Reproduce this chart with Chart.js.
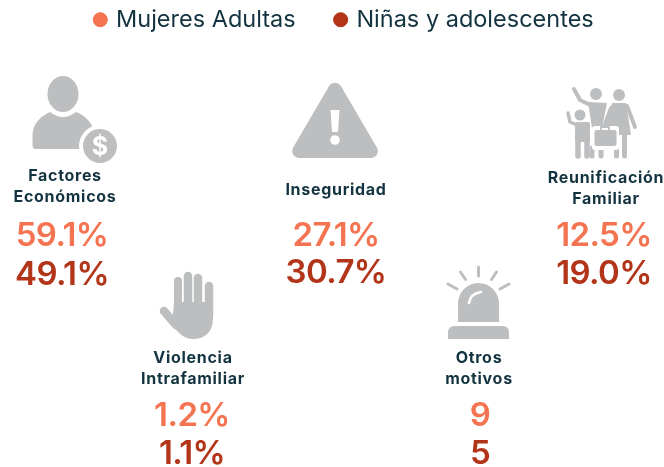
<!DOCTYPE html>
<html>
<head>
<meta charset="utf-8">
<style>
  html, body { margin: 0; padding: 0; background: #fff; }
  canvas { display: block; }
</style>
<script src="https://cdn.jsdelivr.net/npm/chart.js@4"></script>
</head>
<body>
<canvas id="motivos" width="664" height="467"></canvas>
<script>
var categories = [["Factores", "Económicos"], ["Violencia", "Intrafamiliar"], ["Inseguridad"], ["Otros", "motivos"], ["Reunificación", "Familiar"]];
var mujeresAdultas = [59.1, 1.2, 27.1, 9, 12.5];
var ninasAdolescentes = [49.1, 1.1, 30.7, 5, 19.0];
var units = ["%", "%", "%", "", "%"];
var seriesNames = ["Mujeres Adultas", "Niñas y adolescentes"];

// layout of the infographic, in page units
var columnX = [62, 192, 336, 480, 604];
var adultRow = [235, 415, 235, 415, 235];
var girlRow = [274, 453, 272, 453, 273];
var labelX = [65, 193, 336, 479, 606];
var labelRow = [176, 358, 190, 358, 178];
var iconX = [75, 186, 335, 479, 601];
var iconY = [120, 305, 120, 302, 123];

var GREY = "#bdbec0";
var INK = "#12333f";
var ORANGE = "#f47452";
var RUST = "#b2351a";
var FONT = "Inter, sans-serif";

function icon(w, h, ox, oy, draw) {
  var c = document.createElement("canvas");
  c.width = w;
  c.height = h;
  var g = c.getContext("2d");
  g.translate(-ox, -oy);
  g.fillStyle = GREY;
  g.strokeStyle = GREY;
  g.lineCap = "round";
  g.lineJoin = "round";
  draw(g);
  return c;
}

function line(g, pts, width, color) {
  g.beginPath();
  g.lineWidth = width;
  g.strokeStyle = color || GREY;
  g.moveTo(pts[0], pts[1]);
  for (var i = 2; i < pts.length; i += 2) g.lineTo(pts[i], pts[i + 1]);
  g.stroke();
}

function dot(g, x, y, r) {
  g.beginPath();
  g.arc(x, y, r, 0, Math.PI * 2);
  g.fill();
}

var personIcon = icon(90, 90, 30, 75, function (g) {
  g.beginPath();
  g.ellipse(63, 94, 15.5, 18, 0, 0, Math.PI * 2);
  g.fill();
  g.beginPath();
  g.moveTo(36, 149);
  g.quadraticCurveTo(32.5, 149, 32.5, 145);
  g.lineTo(32.5, 135);
  g.bezierCurveTo(33, 122, 42, 116, 50, 112);
  g.quadraticCurveTo(63, 122, 76, 112);
  g.bezierCurveTo(84, 115, 90, 120, 94, 130);
  g.lineTo(94, 149);
  g.closePath();
  g.fill();
  g.globalCompositeOperation = "destination-out";
  dot(g, 100, 146, 21);
  g.globalCompositeOperation = "source-over";
  dot(g, 100, 146, 17);
  g.fillStyle = "#fff";
  g.font = "700 25px " + FONT;
  g.textAlign = "center";
  g.textBaseline = "middle";
  g.fillText("$", 100, 147);
});

var warningIcon = icon(90, 80, 290, 80, function (g) {
  g.beginPath();
  g.moveTo(335, 158);
  g.arcTo(383, 158, 335, 76, 7);
  g.arcTo(335, 76, 287, 158, 7);
  g.arcTo(287, 158, 335, 158, 7);
  g.closePath();
  g.fill();
  g.fillStyle = "#fff";
  g.beginPath();
  g.moveTo(330.5, 110);
  g.lineTo(339.5, 110);
  g.lineTo(338, 132);
  g.lineTo(332, 132);
  g.closePath();
  g.fill();
  dot(g, 335, 140, 4.8);
});

var handIcon = icon(60, 72, 156, 269, function (g) {
  line(g, [178, 281, 178, 310], 8);
  line(g, [188, 276, 188, 310], 8.5);
  line(g, [198, 278, 198, 310], 8.5);
  line(g, [209, 286, 209, 316], 8.5);
  line(g, [164, 311, 176, 325], 8.5);
  g.beginPath();
  g.moveTo(174, 302);
  g.lineTo(213, 302);
  g.lineTo(213, 318);
  g.bezierCurveTo(213, 332, 205, 339, 193, 339);
  g.bezierCurveTo(183, 339, 177, 331, 172, 325);
  g.closePath();
  g.fill();
});

var sirenIcon = icon(70, 76, 444, 264, function (g) {
  line(g, [478.5, 267, 478.5, 276], 3);
  line(g, [460.5, 272, 465.5, 279.5], 3);
  line(g, [496.5, 272, 491.5, 279.5], 3);
  line(g, [448, 284, 457, 289], 3);
  line(g, [509, 284, 500, 289], 3);
  g.beginPath();
  g.moveTo(458, 322);
  g.lineTo(458, 303);
  g.arc(478.5, 303.5, 20.5, Math.PI, 0);
  g.lineTo(499, 322);
  g.closePath();
  g.fill();
  g.beginPath();
  g.roundRect(448, 326, 61, 13, [6, 6, 0, 0]);
  g.fill();
  g.beginPath();
  g.lineWidth = 2.6;
  g.strokeStyle = "#fff";
  g.moveTo(469, 303);
  g.quadraticCurveTo(470, 294, 481, 292);
  g.stroke();
});

var familyIcon = icon(76, 80, 563, 83, function (g) {
  // man
  dot(g, 596, 94, 6);
  line(g, [574, 89, 580, 100, 590, 105], 4);
  g.beginPath();
  g.moveTo(588, 102);
  g.lineTo(607, 103);
  g.lineTo(602, 128);
  g.lineTo(592, 128);
  g.closePath();
  g.fill();
  line(g, [592, 148, 592, 156], 5);
  line(g, [601, 148, 601, 156], 5);
  // woman
  dot(g, 619, 95, 6);
  g.beginPath();
  g.moveTo(612, 103);
  g.lineTo(626, 103);
  g.lineTo(631, 135);
  g.lineTo(604, 135);
  g.closePath();
  g.fill();
  line(g, [627, 106, 635, 127], 4);
  line(g, [611, 108, 604, 127], 4);
  line(g, [616.5, 135, 616.5, 156], 5);
  line(g, [624.5, 135, 624.5, 156], 5);
  // child
  dot(g, 580, 115, 5.5);
  line(g, [568, 113, 570, 122, 577, 125], 3.5);
  g.beginPath();
  g.roundRect(575, 122, 15, 20, 2);
  g.fill();
  line(g, [578, 140, 578, 156], 5.5);
  line(g, [587, 140, 587, 156], 5.5);
  // suitcase
  g.fillStyle = "#fff";
  g.beginPath();
  g.roundRect(592, 126, 27, 24, 3);
  g.fill();
  g.fillStyle = GREY;
  g.beginPath();
  g.roundRect(594.5, 130, 22, 16, 2);
  g.fill();
  g.lineWidth = 1.8;
  g.strokeStyle = GREY;
  g.strokeRect(601, 127, 8, 4);
});

var icons = [personIcon, handIcon, warningIcon, sirenIcon, familyIcon];

function pointsFor(values, row) {
  return values.map(function (v, i) {
    return { x: columnX[i], y: row[i], value: v, unit: units[i] };
  });
}

var textPlugin = {
  id: "textPlugin",
  afterLayout: function (chart) {
    // legend is squeezed to 1px in the layout, so open its box again above the icons
    var legend = chart.legend;
    legend.top = -33;
    legend.bottom = 60;
    legend.left += 13;
    legend.right += 13;
  },
  afterDatasetsDraw: function (chart) {
    var g = chart.ctx;
    var sx = chart.scales.x;
    var sy = chart.scales.y;
    g.save();
    g.textAlign = "center";
    g.textBaseline = "middle";

    g.fillStyle = INK;
    g.font = "700 16px " + FONT;
    g.letterSpacing = "0.7px";
    categories.forEach(function (lines, i) {
      lines.forEach(function (text, k) {
        g.fillText(text, sx.getPixelForValue(labelX[i]), sy.getPixelForValue(labelRow[i] + k * 21.5));
      });
    });

    g.letterSpacing = "-0.6px";
    [0, 1].forEach(function (d) {
      var meta = chart.getDatasetMeta(d);
      g.fillStyle = chart.data.datasets[d].backgroundColor;
      g.font = "600 33px " + FONT;
      meta.data.forEach(function (el, i) {
        var raw = chart.data.datasets[d].data[i];
        var text = (raw.unit ? raw.value.toFixed(1) : String(raw.value)) + raw.unit;
        g.fillText(text, el.x, el.y + 1);
      });
    });
    g.restore();
  }
};

new Chart(document.getElementById("motivos"), {
  type: "scatter",
  data: {
    datasets: [
      { label: seriesNames[0], data: pointsFor(mujeresAdultas, adultRow), backgroundColor: ORANGE, borderColor: ORANGE, pointRadius: 0, pointStyle: "circle" },
      { label: seriesNames[1], data: pointsFor(ninasAdolescentes, girlRow), backgroundColor: RUST, borderColor: RUST, pointRadius: 0, pointStyle: "circle" },
      {
        label: "iconos",
        data: iconX.map(function (x, i) { return { x: x, y: iconY[i] }; }),
        pointStyle: icons,
        pointRadius: 10
      }
    ]
  },
  options: {
    responsive: false,
    animation: false,
    layout: { padding: 0, autoPadding: false },
    scales: {
      x: { display: false, min: 0, max: 664 },
      y: { display: false, min: 1, max: 467, reverse: true }
    },
    plugins: {
      tooltip: { enabled: false },
      legend: {
        position: "top",
        maxHeight: 1,
        labels: {
          usePointStyle: true,
          boxWidth: 8,
          boxHeight: 10,
          padding: 41,
          color: INK,
          font: { family: FONT, size: 23.5, weight: "400" },
          filter: function (item) { return item.datasetIndex < 2; }
        }
      }
    }
  },
  plugins: [textPlugin]
});
</script>
</body>
</html>
